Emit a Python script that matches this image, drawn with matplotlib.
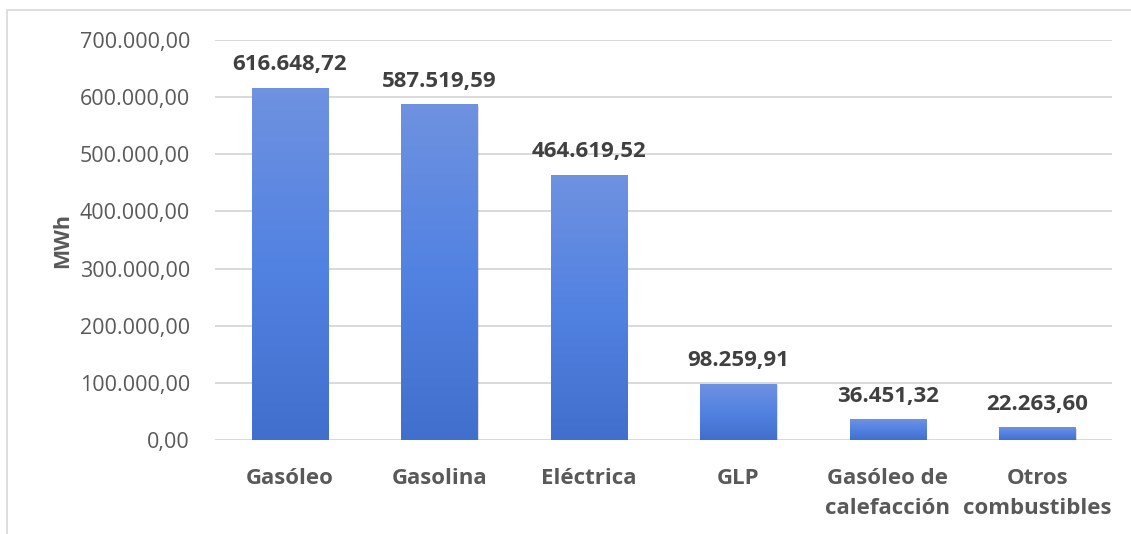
import numpy as np
import matplotlib.pyplot as plt
from matplotlib.patches import Rectangle
from matplotlib.colors import LinearSegmentedColormap

plt.rcParams['font.family'] = ['Open Sans', 'DejaVu Sans']

categorias = ['Gasóleo', 'Gasolina', 'Eléctrica', 'GLP',
              'Gasóleo de\ncalefacción', 'Otros\ncombustibles']
valores = [616648.72, 587519.59, 464619.52, 98259.91, 36451.32, 22263.60]
yticks = [0, 100000, 200000, 300000, 400000, 500000, 600000, 700000]


def fmt_es(v):
    s = '{:,.2f}'.format(v)
    return s.replace(',', 'X').replace('.', ',').replace('X', '.')


fig = plt.figure(figsize=(11.31, 5.34), dpi=100)
# marco exterior
fig.patches.append(Rectangle((7 / 1131, -0.1), 1.2, 1 - 10 / 534 + 0.1,
                             transform=fig.transFigure, fill=False,
                             edgecolor='#d9d9d9', linewidth=1.2))
ax = fig.add_axes([215 / 1131, 94 / 534, 897 / 1131, 400 / 534])

x = np.arange(len(categorias))
ancho = 0.51
grad = LinearSegmentedColormap.from_list('g', ['#416fcd', '#5282e2', '#6f92e0'])
bars = ax.bar(x, valores, width=ancho, color='none', zorder=3)
for b in bars:
    x0, w, h = b.get_x(), b.get_width(), b.get_height()
    # sombra suave
    ax.add_patch(Rectangle((x0 + 0.008, -2500), w, h, facecolor='#000000',
                           alpha=0.12, zorder=2, linewidth=0))
    img = ax.imshow(np.linspace(0, 1, 256).reshape(-1, 1), cmap=grad,
                    extent=(x0, x0 + w, 0, h), origin='lower',
                    aspect='auto', zorder=3)
    img.set_clip_path(b)

for xi, v in zip(x, valores):
    ax.annotate(fmt_es(v), (xi, v), xytext=(0, 9), textcoords='offset points',
                ha='center', va='bottom', fontsize=16, fontweight='bold',
                color='#404040')

ax.set_xlim(-0.5, len(categorias) - 0.5)
ax.set_ylim(0, 700000)
ax.set_yticks(yticks)
ax.set_yticklabels([fmt_es(t) for t in yticks], fontsize=15.5, color='#595959')
ax.set_xticks(x)
ax.set_xticklabels(categorias, fontsize=16, fontweight='bold',
                   color='#595959', linespacing=1.6)
ax.tick_params(axis='both', length=0)
ax.tick_params(axis='x', pad=20)
ax.tick_params(axis='y', pad=18)
ax.grid(axis='y', color='#d9d9d9', linewidth=1.4, zorder=0)
ax.set_axisbelow(True)
for s in ax.spines.values():
    s.set_visible(False)
ax.set_ylabel('MWh', fontsize=15.5, fontweight='bold', color='#595959',
              labelpad=5)

fig.savefig('out.png', dpi=100)
